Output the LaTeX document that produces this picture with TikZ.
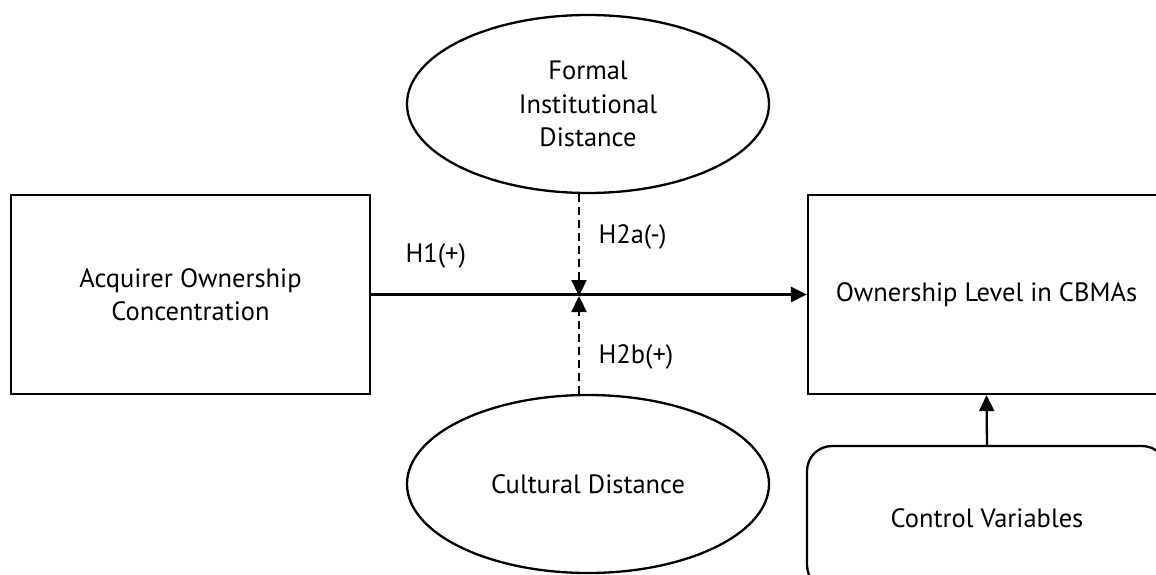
\documentclass[tikz,border=0pt]{standalone}
\usepackage{fontspec}
\setmainfont{PT Sans}
\usetikzlibrary{shapes.geometric,arrows.meta}
\begin{document}
\begin{tikzpicture}[x=1pt,y=-1pt,
  every node/.style={font=\fontsize{26.5}{33.5}\selectfont, align=center},
  varbox/.style={line width=2.3pt, shape=rectangle, draw=black},
  modvar/.style={line width=2.3pt, shape=ellipse, draw=black, inner sep=0pt, minimum width=362pt, minimum height=178pt},
  path/.style={line width=2.3pt, -{Triangle[length=16pt,width=15pt]}},
  modpath/.style={path, dash pattern=on 8pt off 5pt}]
\clip (0,0) rectangle (1156,575);
\useasboundingbox (0,0) rectangle (1156,575);
% variables
\node[varbox, minimum width=359pt, minimum height=199pt](acq) at (190.5,294.5) {Acquirer Ownership\\Concentration};
\node[varbox, minimum width=357pt, minimum height=199pt](own) at (986.5,294.5) {Ownership Level in CBMAs};
\node[modvar](fid) at (588,104) {Formal\\Institutional\\Distance};
\node[modvar](cd) at (588,484) {Cultural Distance};
\node[varbox, rounded corners=25pt, minimum width=360pt, minimum height=144pt](ctrl) at (987,518) {Control Variables};
% paths
\draw[path] (acq.east) -- (own.west);
\coordinate (mod) at (579,296);
\draw[modpath] (fid.south -| mod) -- (mod);
\draw[modpath] (cd.north -| mod) -- (mod);
\draw[path] (ctrl.north) -- (own.south);
% hypotheses
\node[anchor=west] (h1) at (402,256) {H1(+)};
\node[anchor=west] (h2a) at (595,237) {H2a(-)};
\node[anchor=west] (h2b) at (595,357) {H2b(+)};
\end{tikzpicture}
\end{document}
